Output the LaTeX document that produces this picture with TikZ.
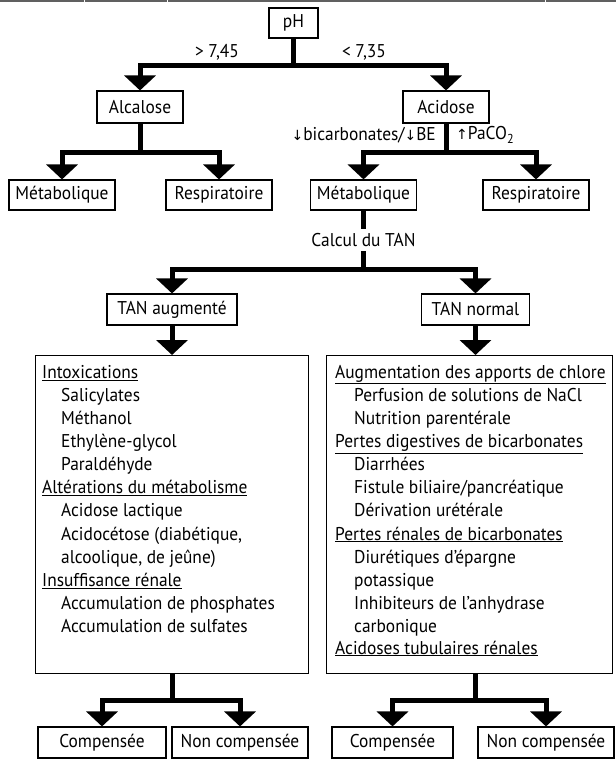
\documentclass[tikz,border=0pt]{standalone}
\usepackage{fontspec}
\setmainfont[FakeStretch=0.94]{PT Sans}
\newfontfamily\arrowfont{DejaVu Sans}
\usetikzlibrary{arrows.meta}
\newcommand{\subi}{\hspace*{19pt}}
\begin{document}
\begin{tikzpicture}[x=1pt,y=-1pt,
  box/.style={draw, line width=1.1pt, inner sep=0pt, minimum height=31pt, font=\fontsize{18.5}{22}\selectfont},
  conn/.style={line width=5pt, line join=miter, -{Triangle[width=31pt,length=15pt]}},
  seg/.style={line width=5pt},
  lbl/.style={inner sep=0pt, font=\fontsize{18.5}{22}\selectfont},
  list/.style={inner sep=0pt, align=left, anchor=north west, font=\fontsize{18.5}{23.1}\selectfont},
  rule/.style={draw=gray!75!black, line width=2pt}]
\useasboundingbox (0,0) rectangle (616,761);
\draw[rule] (0,1) -- (83.5,1);
\draw[rule] (84.5,1) -- (166.5,1);
\draw[rule] (167.5,1) -- (544.5,1);
\draw[rule] (545.5,1) -- (616,1);

% nodes
\node[box, minimum width=49pt, minimum height=30pt] (ph) at (293.5,23) {pH};
\node[box, minimum width=86pt, minimum height=32pt] (alc) at (140,107) {Alcalose};
\node[box, minimum width=86pt, minimum height=32pt] (acid) at (446,107) {Acidose};
\node[box, minimum width=106pt, minimum height=30pt] (metL) at (62,195) {Métabolique};
\node[box, minimum width=106pt, minimum height=30pt] (respL) at (219,195) {Respiratoire};
\node[box, minimum width=106pt, minimum height=30pt] (metR) at (363.5,195) {Métabolique};
\node[box, minimum width=106pt, minimum height=30pt] (respR) at (536,195) {Respiratoire};
\node[lbl, minimum height=22pt] (calc) at (363.5,240) {Calcul du TAN};
\node[box, minimum width=130pt] (tanA) at (172,309.5) {TAN augmenté};
\node[box, minimum width=108pt] (tanN) at (475.5,309.5) {TAN normal};
\node[draw, line width=1.1pt, inner sep=0pt, minimum width=273pt, minimum height=318pt, anchor=north west] (lbox) at (35,355) {};
\node[draw, line width=1.1pt, inner sep=0pt, minimum width=286pt, minimum height=318pt, anchor=north west] (rbox) at (326,355) {};
\node[box, minimum width=128pt] (compL) at (102,742.5) {Compensée};
\node[box, minimum width=136pt] (noncL) at (240,742.5) {Non compensée};
\node[box, minimum width=121pt] (compR) at (392.5,742.5) {Compensée};
\node[box, minimum width=136pt] (noncR) at (546,742.5) {Non compensée};

% labels
\node[lbl] (gt) at (217,52) {> 7,45};
\node[lbl] (lt) at (364,52) {< 7,35};
\node[lbl, anchor=east] (bic) at (436,135) {{\arrowfont\fontsize{14}{16}\selectfont ↓}bicarbonates/{\arrowfont\fontsize{14}{16}\selectfont ↓}BE};
\node[lbl, anchor=west] (pco) at (456,135) {{\arrowfont\fontsize{14}{16}\selectfont ↑}PaCO\textsubscript{2}};

% list texts
\node[list] (ltext) at (42,365) {\underline{Intoxications}\\
\subi Salicylates\\
\subi Méthanol\\
\subi Ethylène-glycol\\
\subi Paraldéhyde\\
\underline{Altérations du métabolisme}\\
\subi Acidose lactique\\
\subi Acidocétose (diabétique,\\
\subi alcoolique, de jeûne)\\
\underline{Insuffisance rénale}\\
\subi Accumulation de phosphates\\
\subi Accumulation de sulfates};
\node[list] (rtext) at (335,365) {\underline{Augmentation des apports de chlore}\\
\subi Perfusion de solutions de NaCl\\
\subi Nutrition parentérale\\
\underline{Pertes digestives de bicarbonates}\\
\subi Diarrhées\\
\subi Fistule biliaire/pancréatique\\
\subi Dérivation urétérale\\
\underline{Pertes rénales de bicarbonates}\\
\subi Diurétiques d’épargne\\
\subi potassique\\
\subi Inhibiteurs de l’anhydrase\\
\subi carbonique\\[-1.5pt]
\underline{Acidoses tubulaires rénales}};

% junction points
\coordinate (j1) at (ph.south |- 0,65.5);
\coordinate (j2) at (alc.south |- 0,152);
\coordinate (j3) at (acid.south |- 0,152);
\coordinate (j4) at (metR.south |- 0,269.5);
\coordinate (j5) at (172,700.5);
\coordinate (j6) at (475.5,700.5);

% connectors
\draw[seg] (ph.south) -- (j1);
\draw[conn] (j1) -| (alc.north);
\draw[conn] (j1) -| (acid.north);
\draw[seg] (alc.south) -- (j2);
\draw[conn] (j2) -| (metL.north);
\draw[conn] (j2) -| (respL.north);
\draw[seg] (acid.south) -- (j3);
\draw[conn] (j3) -| (metR.north);
\draw[conn] (j3) -| (respR.north);
\draw[seg] (metR.south) -- (calc.north);
\draw[seg] (calc.south) -- (j4);
\draw[conn] (j4) -| (tanA.north);
\draw[conn] (j4) -| (tanN.north);
\draw[conn] (tanA.south) -- (tanA |- lbox.north);
\draw[conn] (tanN.south) -- (tanN |- rbox.north);
\draw[seg] (j5 |- lbox.south) -- (j5);
\draw[conn] (j5) -| (compL.north);
\draw[conn] (j5) -| (noncL.north);
\draw[seg] (j6 |- rbox.south) -- (j6);
\draw[conn] (j6) -| (compR.north);
\draw[conn] (j6) -| (noncR.north);
\end{tikzpicture}
\end{document}
